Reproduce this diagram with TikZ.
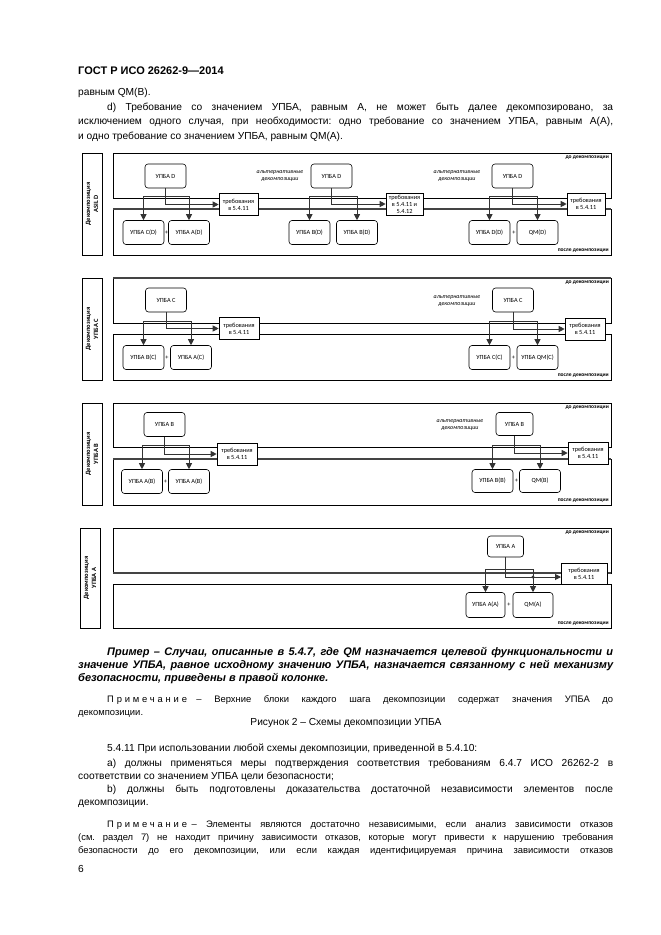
\documentclass[tikz,border=0pt]{standalone}
\usepackage{fontspec}
\setmainfont{Liberation Sans}
\newfontfamily\diagfont{Carlito}
\usetikzlibrary{arrows.meta}
\definecolor{linegray}{HTML}{333333}
\definecolor{bargray}{HTML}{444444}
\newcommand\dsize{\diagfont\fontsize{6.3}{7}\selectfont}
\newcommand\spaced[1]{\mbox{\addfontfeature{LetterSpace=30}#1}}
\frenchspacing

\begin{document}
\begin{tikzpicture}[x=1pt,y=-1pt,
  upba/.style={draw,fill=white,rounded corners=3pt,minimum width=41pt,minimum height=24pt,inner sep=1pt,font=\dsize,line width=0.6pt},
  reqbox/.style={draw,fill=white,minimum width=39pt,minimum height=22pt,inner sep=1pt,align=center,font=\dsize,line width=0.6pt},
  sidebox/.style={draw,rotate=90,minimum width=102pt,minimum height=20pt,inner sep=1pt,align=center,font=\diagfont\bfseries\fontsize{6.5}{8}\selectfont,line width=0.6pt},
  panelframe/.style={draw,line width=0.6pt},
  heavy/.style={draw=bargray,line width=2pt},
  stage/.style={font=\diagfont\bfseries\fontsize{5.5}{6}\selectfont,inner sep=0pt},
  altnote/.style={font=\diagfont\itshape\fontsize{6}{7}\selectfont,align=center,inner sep=0pt},
  plussign/.style={font=\dsize,inner sep=0pt},
  conn/.style={draw=linegray,line width=0.9pt},
  arrowto/.style={-{Triangle[length=6pt,width=6pt]}},
  twoway/.style={{Triangle[length=6pt,width=6pt]}-{Triangle[length=6pt,width=6pt]}},
  bodytext/.style={anchor=base west,inner sep=0pt,font=\fontsize{10.2}{12}\selectfont},
  notetext/.style={anchor=base west,inner sep=0pt,font=\fontsize{9.4}{11}\selectfont},
  exampletext/.style={anchor=base west,inner sep=0pt,font=\bfseries\itshape\fontsize{11}{13}\selectfont},
]
\useasboundingbox (0,0) rectangle (661,935);
\fill[white] (0,0) rectangle (661,935);

\node[anchor=base west,inner sep=0pt,font=\bfseries\fontsize{11}{13}\selectfont] (head) at (78,74) {ГОСТ Р ИСО 26262-9—2014};
\node[bodytext] (l1) at (78,95) {равным QM(B).};
\node[bodytext] (l2) at (107,110) {\makebox[506pt][s]{d) Требование со значением УПБА, равным А, не может быть далее декомпозировано, за}};
\node[bodytext] (l3) at (78,124) {\makebox[535pt][s]{исключением одного случая, при необходимости: одно требование со значением УПБА, равным А(А),}};
\node[bodytext] (l4) at (78,139) {и одно требование со значением УПБА, равным QM(A).};

\draw[panelframe] (113,153) rectangle (611,198);
\draw[panelframe] (113,209) rectangle (611,255);
\draw[heavy] (113,209) -- (611,209);
\node[sidebox] (side1) at (92,204) {Декомпозиция\\ASIL D};
\node[stage,anchor=north east] (before1) at (609,155.5) {до декомпозиции};
\node[stage,anchor=south east] (after1) at (609,253) {после декомпозиции};
\node[upba] (p1a) at (165.5,176) {УПБА D};
\node[reqbox] (r1a) at (238.5,204.5) {требования\\в 5.4.11};
\node[upba] (c1a) at (143.5,232.5) {УПБА C(D)};
\node[plussign] (s1a) at (166.5,232.5) {+};
\node[upba] (d1a) at (189,232.5) {УПБА A(D)};
\node[altnote] (alt1a) at (280,176) {альтернативные\\декомпозиции};
\node[upba] (p1b) at (331.5,176) {УПБА D};
\node[reqbox,minimum width=37pt] (r1b) at (404.5,204) {требования\\в 5.4.11 и\\5.4.12};
\node[upba] (c1b) at (309.5,232.5) {УПБА B(D)};
\node[upba] (d1b) at (357,232.5) {УПБА B(D)};
\node[altnote] (alt1b) at (457,176) {альтернативные\\декомпозиции};
\node[upba] (p1c) at (512.5,176) {УПБА D};
\node[reqbox,minimum width=38pt] (r1c) at (586,204) {требования\\в 5.4.11};
\node[upba] (c1c) at (489.5,232.5) {УПБА D(D)};
\node[plussign] (s1c) at (514,232.5) {+};
\node[upba] (d1c) at (537.5,232.5) {QM(D)};
\coordinate (bar1) at (0,196);
\draw[conn,arrowto] (p1a.south) |- (r1a.west);
\draw[conn,twoway] (c1a.north) -- (c1a.north |- bar1) -- (d1a.north |- bar1) -- (d1a.north);
\draw[conn,arrowto] (p1b.south) |- (r1b.west);
\draw[conn,twoway] (c1b.north) -- (c1b.north |- bar1) -- (d1b.north |- bar1) -- (d1b.north);
\draw[conn,arrowto] (p1c.south) |- (r1c.west);
\draw[conn,twoway] (c1c.north) -- (c1c.north |- bar1) -- (d1c.north |- bar1) -- (d1c.north);

\draw[panelframe] (113,278) rectangle (611,323);
\draw[panelframe] (113,334) rectangle (611,380);
\draw[heavy] (113,278) -- (611,278);
\node[sidebox] (side2) at (92,329) {Декомпозиция\\УПБА C};
\node[stage,anchor=north east] (before2) at (609,280.5) {до декомпозиции};
\node[stage,anchor=south east] (after2) at (609,378) {после декомпозиции};
\node[upba] (p2a) at (166,300) {УПБА C};
\node[reqbox,minimum width=40pt] (r2a) at (239,328.5) {требования\\в 5.4.11};
\node[upba] (c2a) at (143.5,357.5) {УПБА B(C)};
\node[plussign] (s2a) at (167,357.5) {+};
\node[upba] (d2a) at (191,357.5) {УПБА A(C)};
\node[altnote] (alt2) at (457,301) {альтернативные\\декомпозиции};
\node[upba] (p2b) at (513,300) {УПБА C};
\node[reqbox,minimum width=40pt] (r2b) at (585,329) {требования\\в 5.4.11};
\node[upba] (c2b) at (489.5,357.5) {УПБА C(C)};
\node[plussign] (s2b) at (513.5,357.5) {+};
\node[upba] (d2b) at (537.5,357.5) {УПБА QM(C)};
\coordinate (bar2) at (0,321);
\draw[conn,arrowto] (p2a.south) |- (r2a.west);
\draw[conn,twoway] (c2a.north) -- (c2a.north |- bar2) -- (d2a.north |- bar2) -- (d2a.north);
\draw[conn,arrowto] (p2b.south) |- (r2b.west);
\draw[conn,twoway] (c2b.north) -- (c2b.north |- bar2) -- (d2b.north |- bar2) -- (d2b.north);

\draw[panelframe] (113,403) rectangle (611,447);
\draw[panelframe] (113,459) rectangle (611,505);
\draw[heavy] (113,459) -- (611,459);
\node[sidebox] (side3) at (92,454) {Декомпозиция\\УПБА B};
\node[stage,anchor=north east] (before3) at (609,405.5) {до декомпозиции};
\node[stage,anchor=south east] (after3) at (609,503) {после декомпозиции};
\node[upba] (p3a) at (164.5,424.5) {УПБА B};
\node[reqbox,minimum width=40pt] (r3a) at (237,454) {требования\\в 5.4.11};
\node[upba] (c3a) at (142,481.5) {УПБА A(B)};
\node[plussign] (s3a) at (165.5,481.5) {+};
\node[upba] (d3a) at (189,481.5) {УПБА A(B)};
\node[altnote] (alt3) at (460,425) {альтернативные\\декомпозиции};
\node[upba,minimum width=37pt,minimum height=23pt] (p3b) at (514.5,424) {УПБА B};
\node[reqbox,minimum width=40pt] (r3b) at (588,453) {требования\\в 5.4.11};
\node[upba,minimum height=23pt] (c3b) at (492.5,481) {УПБА B(B)};
\node[plussign] (s3b) at (516.5,481) {+};
\node[upba,minimum height=23pt] (d3b) at (540,481) {QM(B)};
\coordinate (bar3) at (0,445);
\draw[conn,arrowto] (p3a.south) |- (r3a.west);
\draw[conn,twoway] (c3a.north) -- (c3a.north |- bar3) -- (d3a.north |- bar3) -- (d3a.north);
\draw[conn,arrowto] (p3b.south) |- (r3b.west);
\draw[conn,twoway] (c3b.north) -- (c3b.north |- bar3) -- (d3b.north |- bar3) -- (d3b.north);

\draw[panelframe] (113,528) rectangle (611,573);
\draw[panelframe] (113,584) rectangle (611,628);
\draw[heavy] (113,573) -- (611,573);
\node[sidebox,minimum width=100pt] (side4) at (90,578) {Декомпозиция\\УПБА A};
\node[stage,anchor=north east] (before4) at (609,530.5) {до декомпозиции};
\node[stage,anchor=south east] (after4) at (609,626) {после декомпозиции};
\node[upba,minimum width=36pt,minimum height=21pt] (p4) at (505.5,546.5) {УПБА A};
\node[reqbox,minimum width=46pt,minimum height=21pt] (r4) at (584,573.5) {требования\\в 5.4.11};
\node[upba,minimum width=39pt,minimum height=25pt] (c4) at (485.5,605) {УПБА A(A)};
\node[plussign] (s4) at (509,605) {+};
\node[upba,minimum width=40pt,minimum height=25pt] (d4) at (533,605) {QM(A)};
\coordinate (bar4) at (0,569);
\coordinate (a4) at (561,577);
\draw[conn,arrowto] (p4.south) |- (a4);
\draw[conn,twoway] (c4.north) -- (c4.north |- bar4) -- (d4.north |- bar4) -- (d4.north);
\fill[linegray] (d4.north |- a4) circle (1.6pt);

\node[exampletext] (ex1) at (107,655) {\makebox[506pt][s]{Пример – Случаи, описанные в 5.4.7, где QM назначается целевой функциональности и}};
\node[exampletext] (ex2) at (78,668) {\makebox[535pt][s]{значение УПБА, равное исходному значению УПБА, назначается связанному с ней механизму}};
\node[exampletext] (ex3) at (78,681) {безопасности, приведены в правой колонке.};
\node[notetext] (n1) at (107,702) {\makebox[506pt][s]{\spaced{Примечание}\quad– Верхние блоки каждого шага декомпозиции содержат значения УПБА до}};
\node[notetext] (n2) at (78,715) {декомпозиции.};
\node[anchor=base,inner sep=0pt,font=\fontsize{10.2}{12}\selectfont] (caption) at (346,725) {Рисунок 2 – Схемы декомпозиции УПБА};

\node[bodytext] (s1) at (107,751) {5.4.11 При использовании любой схемы декомпозиции, приведенной в 5.4.10:};
\node[bodytext] (s2) at (107,766) {\makebox[506pt][s]{a) должны применяться меры подтверждения соответствия требованиям 6.4.7 ИСО 26262-2 в}};
\node[bodytext] (s3) at (78,779) {соответствии со значением УПБА цели безопасности;};
\node[bodytext] (s4) at (107,792) {\makebox[506pt][s]{b) должны быть подготовлены доказательства достаточной независимости элементов после}};
\node[bodytext] (s5) at (78,805) {декомпозиции.};
\node[notetext] (n3) at (107,827) {\makebox[506pt][s]{\spaced{Примечание}\enspace– Элементы являются достаточно независимыми, если анализ зависимости отказов}};
\node[notetext] (n4) at (78,840) {\makebox[535pt][s]{(см. раздел 7) не находит причину зависимости отказов, которые могут привести к нарушению требования}};
\node[notetext] (n5) at (78,853) {\makebox[535pt][s]{безопасности до его декомпозиции, или если каждая идентифицируемая причина зависимости отказов}};
\node[bodytext] (pagenum) at (78,872) {6};
\end{tikzpicture}
\end{document}
